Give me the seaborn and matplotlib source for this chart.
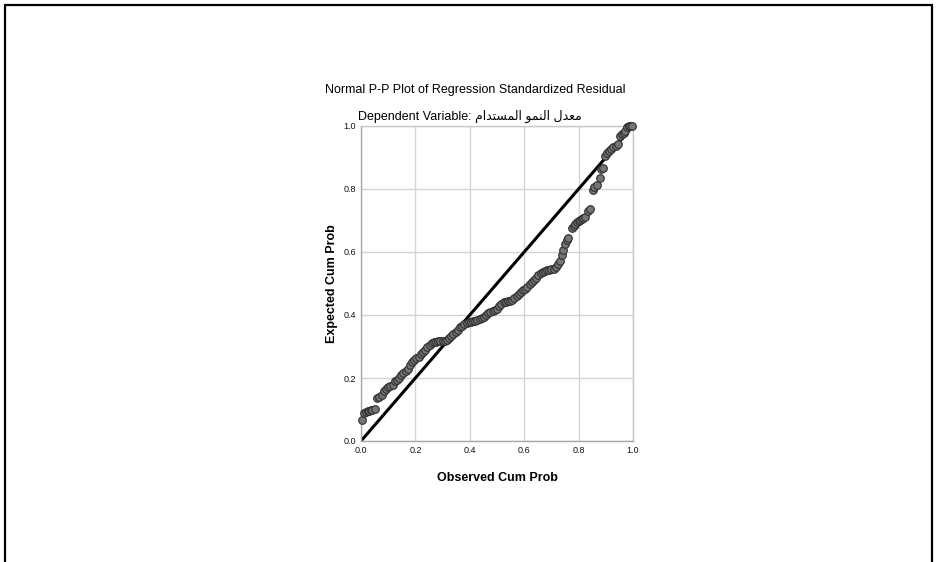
import matplotlib
matplotlib.use("Agg")
import matplotlib.pyplot as plt
import seaborn as sns
import pandas as pd
from matplotlib.lines import Line2D

# observed / expected cumulative probabilities
observed = [
    0.003, 0.012, 0.018, 0.024, 0.030, 0.036, 0.042, 0.050,
    0.060, 0.068, 0.076, 0.084, 0.092, 0.100, 0.108, 0.116,
    0.124, 0.132, 0.140, 0.148, 0.156, 0.164, 0.172, 0.180,
    0.188, 0.196, 0.204, 0.212, 0.220, 0.228, 0.236, 0.244,
    0.252, 0.260, 0.268, 0.276, 0.284, 0.292, 0.300, 0.308,
    0.316, 0.324, 0.332, 0.340, 0.348, 0.356, 0.364, 0.372,
    0.380, 0.388, 0.396, 0.404, 0.412, 0.420, 0.428, 0.436,
    0.444, 0.452, 0.460, 0.468, 0.476, 0.484, 0.492, 0.500,
    0.508, 0.516, 0.524, 0.532, 0.540, 0.548, 0.556, 0.564,
    0.572, 0.580, 0.588, 0.596, 0.604, 0.612, 0.620, 0.628,
    0.636, 0.644, 0.652, 0.660, 0.668, 0.676, 0.684, 0.692,
    0.700, 0.708, 0.716, 0.724, 0.732, 0.738, 0.744, 0.750,
    0.756, 0.762, 0.776, 0.782, 0.788, 0.794, 0.800, 0.806,
    0.812, 0.818, 0.824, 0.836, 0.842, 0.852, 0.858, 0.868,
    0.878, 0.884, 0.890, 0.898, 0.904, 0.912, 0.920, 0.928,
    0.936, 0.944, 0.952, 0.960, 0.966, 0.972, 0.978, 0.984,
    0.990, 0.996,
]
expected = [
    0.066, 0.088, 0.092, 0.094, 0.096, 0.097, 0.099, 0.103,
    0.138, 0.141, 0.146, 0.160, 0.165, 0.170, 0.174, 0.178,
    0.190, 0.195, 0.201, 0.208, 0.215, 0.221, 0.230, 0.240,
    0.252, 0.258, 0.263, 0.268, 0.275, 0.283, 0.290, 0.297,
    0.304, 0.310, 0.314, 0.315, 0.316, 0.317, 0.318, 0.319,
    0.322, 0.327, 0.333, 0.340, 0.345, 0.352, 0.362, 0.366,
    0.370, 0.374, 0.377, 0.378, 0.380, 0.382, 0.384, 0.386,
    0.389, 0.393, 0.400, 0.405, 0.409, 0.412, 0.415, 0.420,
    0.428, 0.436, 0.440, 0.442, 0.444, 0.446, 0.448, 0.455,
    0.460, 0.466, 0.472, 0.478, 0.484, 0.490, 0.498, 0.506,
    0.512, 0.518, 0.527, 0.533, 0.537, 0.540, 0.542, 0.543,
    0.545, 0.547, 0.552, 0.562, 0.570, 0.590, 0.606, 0.624,
    0.638, 0.645, 0.676, 0.684, 0.690, 0.694, 0.698, 0.702,
    0.705, 0.708, 0.712, 0.730, 0.737, 0.797, 0.806, 0.813,
    0.835, 0.862, 0.868, 0.905, 0.914, 0.920, 0.926, 0.932,
    0.938, 0.944, 0.968, 0.974, 0.978, 0.984, 0.996, 1.000,
    1.000, 1.000,
]
diag = [0.0, 1.0]
ticks = [0.0, 0.2, 0.4, 0.6, 0.8, 1.0]
tick_labels = ["0.0", "0.2", "0.4", "0.6", "0.8", "1.0"]

title = "Normal P-P Plot of Regression Standardized Residual"
# Arabic dependent variable name, written in visual order with presentation forms
dep_var = ("\uFEE1\uFE8D\uFEAA\uFE98\uFEB4\uFEE4\uFEDF\uFE8D "
           "\uFEEE\uFEE4\uFEE8\uFEDF\uFE8D "
           "\uFEDD\uFEAA\uFECC\uFEE3")
subtitle = "Dependent Variable: " + dep_var

df = pd.DataFrame({"obs": observed, "exp": expected})
ref = pd.DataFrame({"x": diag, "y": diag})

sns.set_style("white")
plt.rcParams["font.family"] = ["Liberation Sans", "DejaVu Sans"]

fig = plt.figure(figsize=(9.36, 5.62), dpi=100)
ax = fig.add_axes([361 / 936, 1 - 441 / 562, 272 / 936, 315 / 562])

ax.grid(True, color="#d4d4d4", linewidth=1.0)
ax.set_axisbelow(True)

sns.lineplot(data=ref, x="x", y="y", ax=ax, color="black", linewidth=2.2, zorder=2)
sns.scatterplot(data=df, x="obs", y="exp", ax=ax, s=30, color="#767676",
                edgecolor="#2e2e2e", linewidth=0.8, zorder=3, clip_on=False)

ax.set_xlim(0, 1)
ax.set_ylim(0, 1)
ax.set_xticks(ticks)
ax.set_yticks(ticks)
ax.set_xticklabels(tick_labels)
ax.set_yticklabels(tick_labels)
ax.tick_params(axis="both", labelsize=6.5, length=2, width=0.8, color="#b0b0b0",
               pad=1.5, labelcolor="#111111")
for side in ["left", "bottom", "top", "right"]:
    ax.spines[side].set_color("#c8c8c8")
    ax.spines[side].set_linewidth(1.0)
ax.spines["left"].set_color("#a8a8a8")
ax.spines["bottom"].set_color("#a8a8a8")

ax.set_xlabel("Observed Cum Prob", fontsize=9, fontweight="bold", labelpad=12,
              color="black")
ax.set_ylabel("Expected Cum Prob", fontsize=9, fontweight="bold", labelpad=4,
              color="black")

fig.text(475 / 936, 1 - 90 / 562, title, ha="center", va="center", fontsize=9,
         color="black")
fig.text(470 / 936, 1 - 116 / 562, subtitle, ha="center", va="center", fontsize=9,
         color="black")

# outer frame (top, left, right)
W, H = 936, 562
fig.add_artist(Line2D([5 / W, 932 / W], [1 - 5 / H, 1 - 5 / H], color="black", linewidth=1.6))
fig.add_artist(Line2D([5 / W, 5 / W], [1 - 5 / H, 0], color="black", linewidth=1.6))
fig.add_artist(Line2D([932 / W, 932 / W], [1 - 5 / H, 0], color="black", linewidth=1.6))

fig.savefig("out.png", dpi=100)
